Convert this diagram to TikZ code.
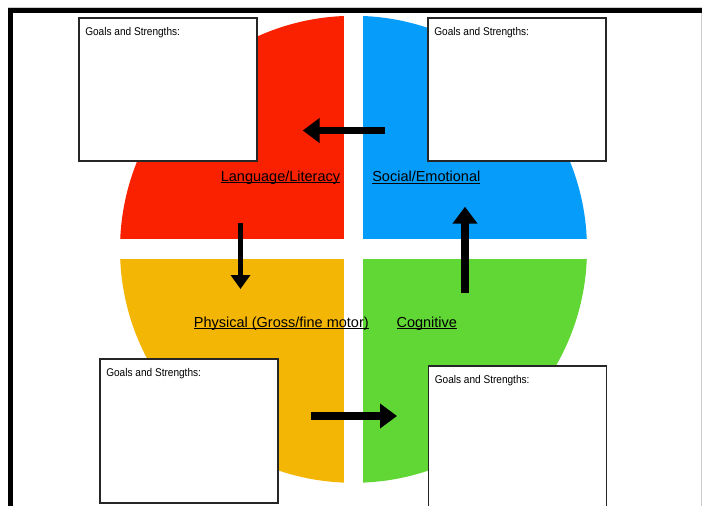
\documentclass[tikz,border=0pt]{standalone}
\usepackage{fontspec}
\setmainfont{Liberation Sans}
\usepackage{xcolor}
\usetikzlibrary{arrows.meta,positioning}

\definecolor{qred}{RGB}{250,33,0}
\definecolor{qblue}{RGB}{5,156,250}
\definecolor{qyellow}{RGB}{244,182,4}
\definecolor{qgreen}{RGB}{97,215,53}

% Unterstreichung mit fester Tiefe
\newcommand{\undl}[1]{\setbox0\hbox{#1}\rlap{\rule[-2.2pt]{\wd0}{1.1pt}}\box0}

\begin{document}
\begin{tikzpicture}[x=1pt,y=-1pt]

		\tikzset{%
			box/.style      = {draw=black!85, line width=1.8pt, rectangle, fill=white,
				minimum width = 178pt, minimum height = 143pt, inner sep=0pt}, % Zielfeld
			goals/.style    = {anchor=north west, inner xsep=7pt, inner ysep=10pt,
				font=\fontsize{11.2}{13}\selectfont}, % Feldtext
			area/.style     = {anchor=base, inner sep=0pt,
				font=\fontsize{14.5}{17}\selectfont}, % Bereich
			blockarrow/.style = {line width=8pt, -{Triangle[width=24pt,length=17pt]}}
		}

		\clip (0,0) rectangle (702,506);
		\fill[white] (0,0) rectangle (702,506);

		% Rahmen
		\draw[black!20, line width=0.8pt] (8,7) -- (701,7) -- (701,506);
		\draw[line width=5.5pt] (702,10.5) -| (10.5,506);

		% Kreis in vier Bereichen
		\coordinate (ctr) at (353.5,249.3);
		\begin{scope}
			\clip (ctr) circle[radius=233.5];
			\fill[qred]    ([shift={(-9.5,-10)}]ctr) rectangle (100,0);
			\fill[qblue]   ([shift={(9.5,-10)}]ctr)  rectangle (702,0);
			\fill[qyellow] ([shift={(-9.5,10)}]ctr)  rectangle (100,506);
			\fill[qgreen]  ([shift={(9.5,10)}]ctr)   rectangle (702,506);
		\end{scope}

		% Felder
		\node[box] (boxtl) at (168,89.5) {};
		\node[box] (boxtr) at (517,89.5) {};
		\node[box, minimum height=144pt] (boxbl) at (189,431) {};
		\node[box] (boxbr) at (517.5,437.5) {};
		\node[goals] (gtl) at (boxtl.north west) {\scalebox{0.9}[1]{Goals and Strengths:}};
		\node[goals] (gtr) at (boxtr.north west) {\scalebox{0.9}[1]{Goals and Strengths:}};
		\node[goals] (gbl) at (boxbl.north west) {\scalebox{0.9}[1]{Goals and Strengths:}};
		\node[goals] (gbr) at (boxbr.north west) {\scalebox{0.9}[1]{Goals and Strengths:}};

		% Bereiche
		\node[area] (lang) at (280.5,181.1) {\undl{Language/Literacy}};
		\node[area] (social) at (426.3,181.4) {\undl{Social/Emotional}};
		\node[area] (phys) at (281.3,327.1) {\undl{Physical (Gross/fine motor)}};
		\node[area] (cogn) at (426.8,327.1) {\undl{Cognitive}};

		% Pfeile
		\coordinate (topstart) at (385,130.5);
		\coordinate (topend) at (302.7,130.5);
		\coordinate (leftstart) at (240.5,222.7);
		\coordinate (leftend) at (240.5,289);
		\coordinate (botstart) at (311,416);
		\coordinate (botend) at (397,416);
		\coordinate (rightstart) at (465,293);
		\coordinate (rightend) at (465,206.7);
		\draw[blockarrow, line width=7pt] (topstart) -- (topend);
		\draw[line width=5.6pt, -{Triangle[width=19pt,length=14pt]}] (leftstart) -- (leftend);
		\draw[blockarrow] (botstart) -- (botend);
		\draw[blockarrow] (rightstart) -- (rightend);
		\end{tikzpicture}
\end{document}
